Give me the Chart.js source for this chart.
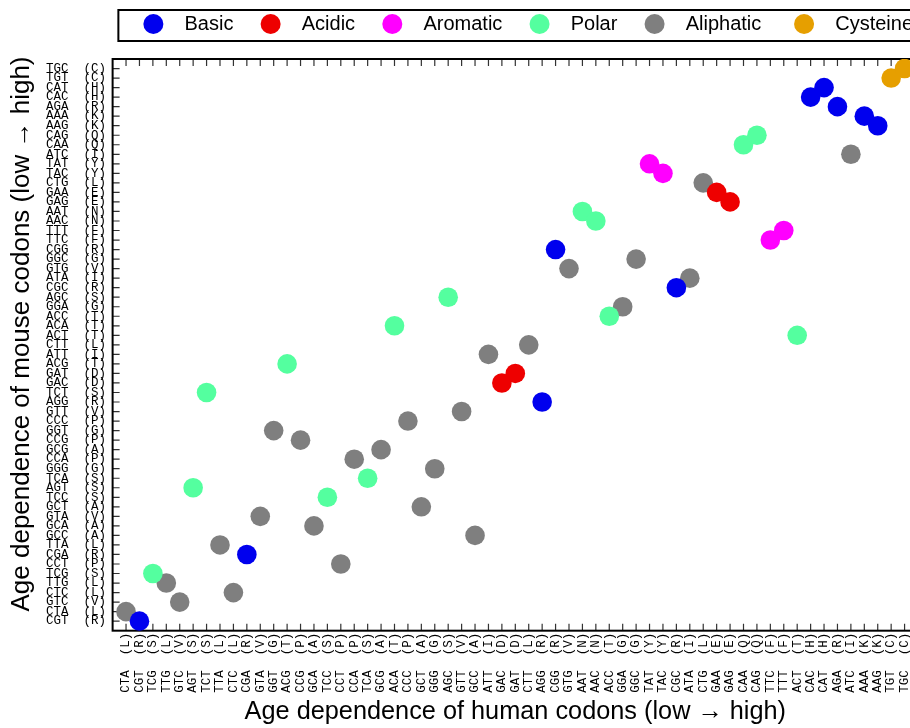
<!DOCTYPE html>
<html>
<head>
<meta charset="utf-8">
<script src="https://cdn.jsdelivr.net/npm/chart.js@4.4.1/dist/chart.umd.min.js"></script>
<style>
  html, body { margin: 0; padding: 0; background: #fff; overflow: hidden; }
  canvas { display: block; }
</style>
</head>
<body>
<canvas id="codonChart" width="940" height="728"></canvas>
<script>
// human codons, ordered by age dependence (low -> high)
const humanCodons = [
  "CTA", "CGT", "TCG", "TTG", "GTC", "AGT", "TCT", "TTA", "CTC", "CGA",
  "GTA", "GGT", "ACG", "CCG", "GCA", "TCC", "CCT", "CCA", "TCA", "GCG",
  "ACA", "CCC", "GCT", "GGG", "AGC", "GTT", "GCC", "ATT", "GAC", "GAT",
  "CTT", "AGG", "CGG", "GTG", "AAT", "AAC", "ACC", "GGA", "GGC", "TAT",
  "TAC", "CGC", "ATA", "CTG", "GAA", "GAG", "CAA", "CAG", "TTC", "TTT",
  "ACT", "CAC", "CAT", "AGA", "ATC", "AAA", "AAG", "TGT", "TGC"
];
const humanAA = [
  "L", "R", "S", "L", "V", "S", "S", "L", "L", "R",
  "V", "G", "T", "P", "A", "S", "P", "P", "S", "A",
  "T", "P", "A", "G", "S", "V", "A", "I", "D", "D",
  "L", "R", "R", "V", "N", "N", "T", "G", "G", "Y",
  "Y", "R", "I", "L", "E", "E", "Q", "Q", "F", "F",
  "T", "H", "H", "R", "I", "K", "K", "C", "C"
];

// mouse codons, ordered by age dependence, bottom (low) to top (high)
const mouseCodons = [
  "CGT", "CTA", "GTC", "CTC", "TTG", "TCG", "CCT", "CGA", "TTA", "GCC",
  "GCA", "GTA", "GCT", "TCC", "AGT", "TCA", "GGG", "CCA", "GCG", "CCG",
  "GGT", "CCC", "GTT", "AGG", "TCT", "GAC", "GAT", "ACG", "ATT", "CTT",
  "ACT", "ACA", "ACC", "GGA", "AGC", "CGC", "ATA", "GTG", "GGC", "CGG",
  "TTC", "TTT", "AAC", "AAT", "GAG", "GAA", "CTG", "TAC", "TAT", "ATC",
  "CAA", "CAG", "AAG", "AAA", "AGA", "CAC", "CAT", "TGT", "TGC"
];
const mouseAA = [
  "R", "L", "V", "L", "L", "S", "P", "R", "L", "A",
  "A", "V", "A", "S", "S", "S", "G", "P", "A", "P",
  "G", "P", "V", "R", "S", "D", "D", "T", "I", "L",
  "T", "T", "T", "G", "S", "R", "I", "V", "G", "R",
  "F", "F", "N", "N", "E", "E", "L", "Y", "Y", "I",
  "Q", "Q", "K", "K", "R", "H", "H", "C", "C"
];

const classNames = ["Basic", "Acidic", "Aromatic", "Polar", "Aliphatic", "Cysteine"];
const classResidues = ["RKH", "DE", "YF", "STNQ", "LVIAGP", "C"];
const classColors = ["#0000ee", "#ee0000", "#ff00ff", "#54ff9f", "#7f7f7f", "#e69f00"];
// spaces after each legend entry (R's legend spacing)
const legendGaps = [4, 4, 4, 4, 5, 0];

const monoFont = { family: "'Liberation Mono', 'DejaVu Sans Mono', monospace", size: 12.5 };
const sansFont = "'Liberation Sans', Arial, Helvetica, sans-serif";

// one dataset per residue class, point = (human rank, mouse rank)
const datasets = classNames.map((name, c) => {
  const pts = [];
  humanCodons.forEach((codon, i) => {
    if (classResidues[c].includes(humanAA[i])) {
      pts.push({ x: i, y: mouseCodons.indexOf(codon) });
    }
  });
  return {
    label: name,
    data: pts,
    backgroundColor: classColors[c],
    borderWidth: 0,
    pointRadius: 9.8,
    pointHoverRadius: 9.8,
  };
});

// inward ticks (bottom, top, left) + black frame, drawn under the points
const frameTicks = {
  id: "frameTicks",
  beforeDatasetsDraw(chart) {
    const { ctx, chartArea: a, scales: { x, y } } = chart;
    ctx.save();
    ctx.strokeStyle = "#333";
    ctx.lineWidth = 1.2;
    ctx.beginPath();
    humanCodons.forEach((_, i) => {
      const px = x.getPixelForValue(i);
      ctx.moveTo(px, a.bottom); ctx.lineTo(px, a.bottom - 7);
      ctx.moveTo(px, a.top); ctx.lineTo(px, a.top + 7);
    });
    mouseCodons.forEach((_, j) => {
      const py = y.getPixelForValue(j);
      ctx.moveTo(a.left, py); ctx.lineTo(a.left + 7, py);
    });
    ctx.stroke();
    ctx.strokeStyle = "#000";
    ctx.lineWidth = 2;
    ctx.strokeRect(a.left, a.top, a.right - a.left, a.bottom - a.top);
    ctx.restore();
  },
};

// box around the legend, like R's legend()
const legendFrame = {
  id: "legendFrame",
  afterDraw(chart) {
    const boxes = chart.legend.legendHitBoxes;
    if (!boxes || !boxes.length) return;
    const left = Math.min(...boxes.map(b => b.left)) - 25;
    const right = Math.max(...boxes.map(b => b.left + b.width)) + 25;
    const top = Math.min(...boxes.map(b => b.top)) - 4;
    const bottom = Math.max(...boxes.map(b => b.top + b.height)) + 7;
    const ctx = chart.ctx;
    ctx.save();
    ctx.strokeStyle = "#000";
    ctx.lineWidth = 2;
    ctx.strokeRect(left, top, right - left, bottom - top);
    ctx.restore();
  },
};

new Chart(document.getElementById("codonChart"), {
  type: "scatter",
  data: { datasets },
  options: {
    responsive: false,
    animation: false,
    layout: { padding: { top: 9, left: 3, right: 22, bottom: 0 } },
    scales: {
      x: {
        type: "linear",
        position: "bottom",
        min: -1,
        max: humanCodons.length,
        grid: { display: false, drawTicks: false },
        border: { display: false },
        ticks: {
          stepSize: 1,
          autoSkip: false,
          minRotation: 90,
          maxRotation: 90,
          padding: 2,
          font: monoFont,
          color: "#000",
          callback: (v) => {
            const i = Math.round(v);
            return i >= 0 && i < humanCodons.length ? `${humanCodons[i]}  (${humanAA[i]})` : "";
          },
        },
        title: {
          display: true,
          text: "Age dependence of human codons (low \u2192 high)",
          font: { family: sansFont, size: 25.3, lineHeight: 1 },
          color: "#000",
          padding: { top: 5, bottom: 3 },
        },
        afterFit(s) { s.paddingLeft = 0; s.paddingRight = 0; },
      },
      x2: {
        type: "linear",
        position: "top",
        display: true,
        grid: { display: false, drawTicks: false },
        border: { display: false },
        ticks: { display: false },
        afterFit(s) { s.height = 15; },
      },
      y: {
        type: "linear",
        min: -1,
        max: mouseCodons.length,
        grid: { display: false, drawTicks: false },
        border: { display: false },
        ticks: {
          stepSize: 1,
          autoSkip: false,
          padding: 6.7,
          font: monoFont,
          color: "#000",
          callback: (v) => {
            const j = Math.round(v);
            return j >= 0 && j < mouseCodons.length ? `${mouseCodons[j]}  (${mouseAA[j]})` : "";
          },
        },
        title: {
          display: true,
          text: "   Age dependence of mouse codons (low \u2192 high)",
          font: { family: sansFont, size: 26, lineHeight: 1.15 },
          color: "#000",
          padding: { top: 4, bottom: 2.3 },
        },
      },
    },
    plugins: {
      legend: {
        position: "top",
        align: "end",
        labels: {
          boxWidth: 20,
          boxHeight: 20,
          padding: 5,
          color: "#000",
          font: { family: sansFont, size: 20 },
          generateLabels(chart) {
            const items = Chart.defaults.plugins.legend.labels.generateLabels(chart);
            return items.map((item, i) => ({
              ...item,
              text: "  " + item.text + " ".repeat(legendGaps[i]),
              lineWidth: 0,
              borderRadius: 10,
            }));
          },
        },
      },
      tooltip: { enabled: false },
    },
  },
  plugins: [frameTicks, legendFrame],
});
</script>
</body>
</html>
